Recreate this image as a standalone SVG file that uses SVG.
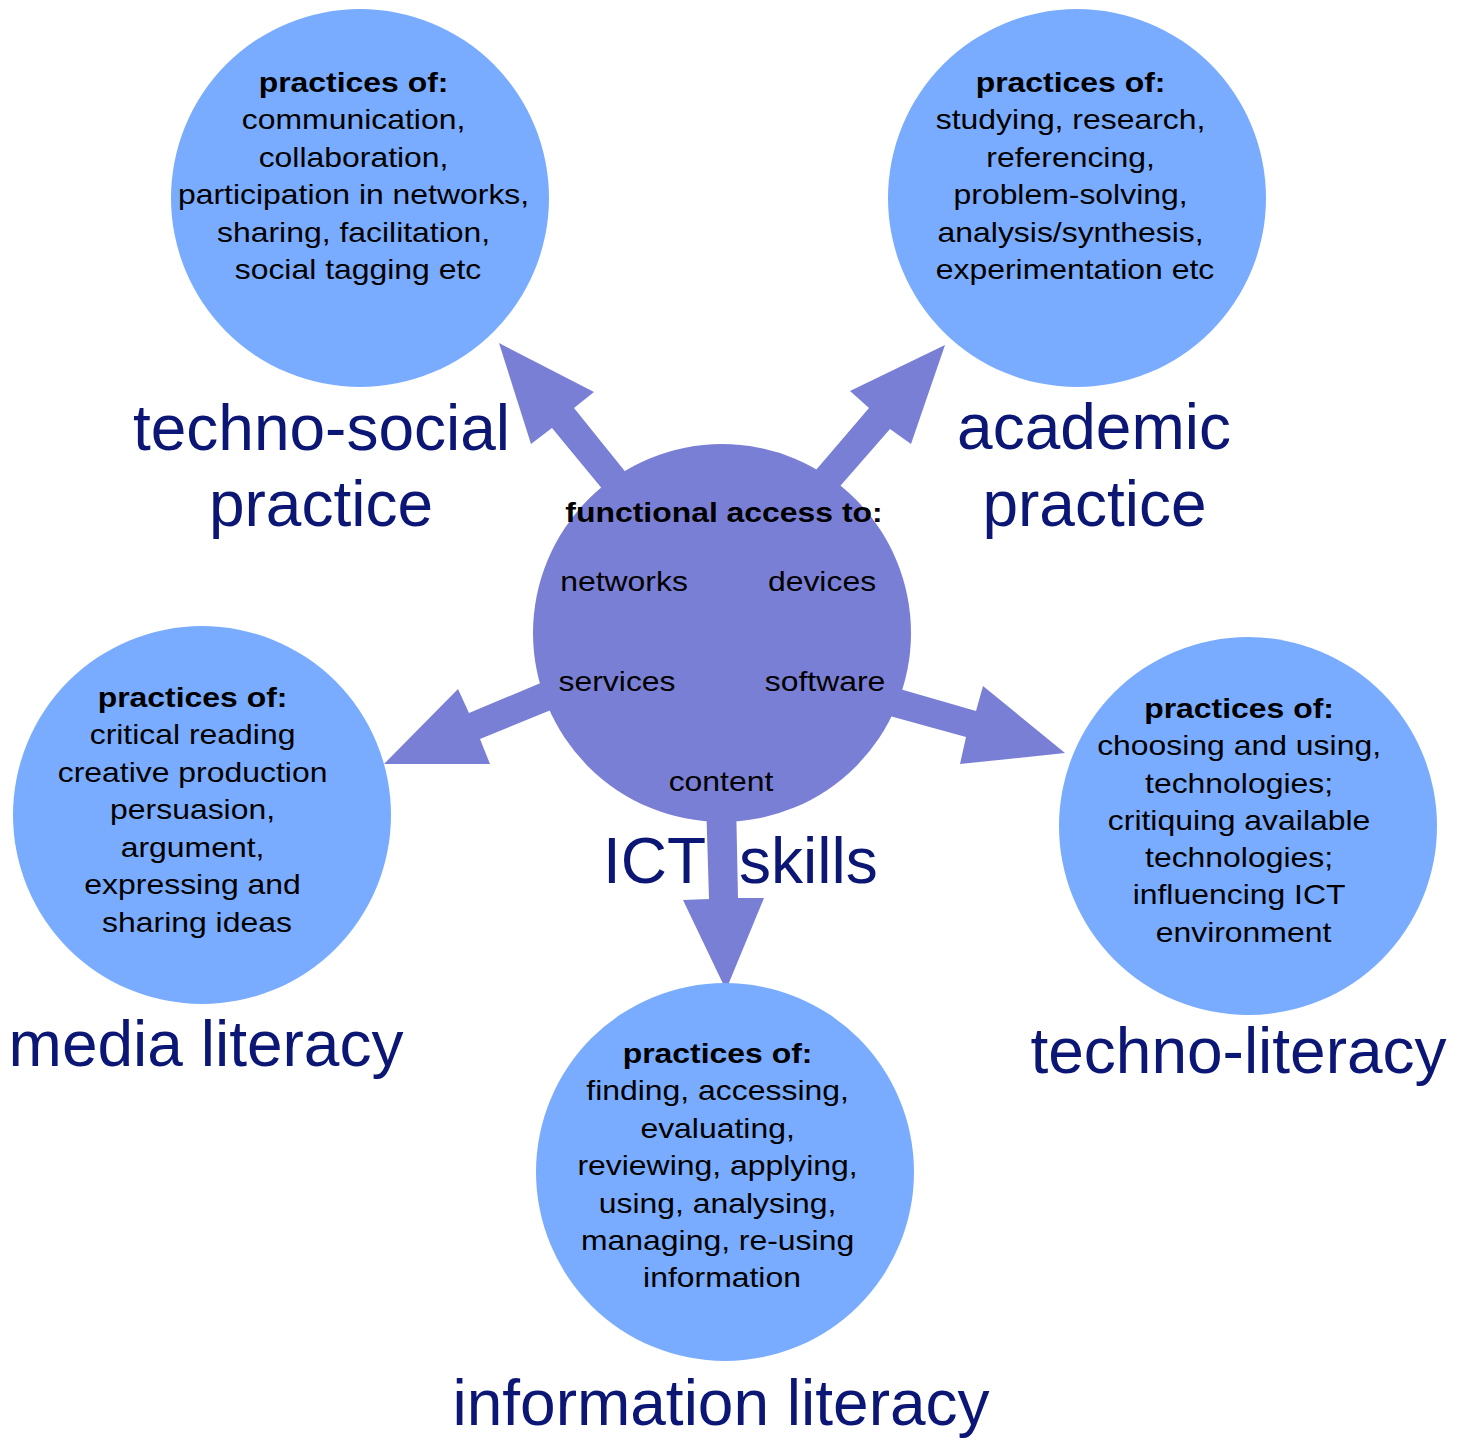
<svg xmlns="http://www.w3.org/2000/svg" width="1463" height="1440" viewBox="0 0 1463 1440">
  <style>
    .practice { fill: #79acff; }
    .core { fill: #7a7fd6; }
    .arrow { fill: #7a7fd6; }
    .body { font-family: "Liberation Sans", Arial, Helvetica, sans-serif; font-size: 28.5px; fill: #000; text-anchor: middle; }
    .head { font-weight: bold; }
    .label { font-family: "Liberation Sans", Arial, Helvetica, sans-serif; font-size: 64px; fill: #0b1675; text-anchor: middle; }
  </style>

  <rect width="1463" height="1440" fill="#fff"/>

  <!-- block arrows radiating from the ICT skills hub -->
  <g id="connectors">
    <polygon class="arrow" points="640,490 574,408 594,392 499,343 531,444 552,428 618,508"/>
    <polygon class="arrow" points="945,345 850,391 869,408 804,484 828,500 890,429 911,444"/>
    <polygon class="arrow" points="384,764 458,689 469,713 562,674 573,701 480,739 490,764"/>
    <polygon class="arrow" points="1065,753 983,686 976,711 879,683 868,710 966,737 960,764"/>
    <polygon class="arrow" points="726,990 764,898 738,898 736,800 706,800 709,899 683,900"/>
  </g>

  <!-- techno-social practice -->
  <g id="techno-social">
    <circle class="practice" cx="360" cy="198" r="189"/>
    <g transform="translate(358 0) scale(1.12 1)">
      <text class="body" y="92">
        <tspan class="head" x="0">practices of:</tspan>
        <tspan x="0" dy="37.5">communication,</tspan>
        <tspan x="0" dy="37.5">collaboration,</tspan>
        <tspan x="0" dy="37.5">participation in networks,</tspan>
        <tspan x="0" dy="37.5">sharing, facilitation,</tspan>
        <tspan x="0" dy="37.5">social tagging etc</tspan>
      </text>
    </g>
    <text class="label" x="321.5" y="450">techno-social</text>
    <text class="label" x="321" y="526">practice</text>
  </g>

  <!-- academic practice -->
  <g id="academic">
    <circle class="practice" cx="1077" cy="198" r="189"/>
    <g transform="translate(1075 0) scale(1.12 1)">
      <text class="body" y="92">
        <tspan class="head" x="0">practices of:</tspan>
        <tspan x="0" dy="37.5">studying, research,</tspan>
        <tspan x="0" dy="37.5">referencing,</tspan>
        <tspan x="0" dy="37.5">problem-solving,</tspan>
        <tspan x="0" dy="37.5">analysis/synthesis,</tspan>
        <tspan x="0" dy="37.5">experimentation etc</tspan>
      </text>
    </g>
    <text class="label" x="1094" y="449">academic</text>
    <text class="label" x="1094.5" y="526">practice</text>
  </g>

  <!-- media literacy -->
  <g id="media-literacy">
    <circle class="practice" cx="202" cy="815" r="189"/>
    <g transform="translate(197 0) scale(1.12 1)">
      <text class="body" y="707">
        <tspan class="head" x="0">practices of:</tspan>
        <tspan x="0" dy="37.5">critical reading</tspan>
        <tspan x="0" dy="37.5">creative production</tspan>
        <tspan x="0" dy="37.5">persuasion,</tspan>
        <tspan x="0" dy="37.5">argument,</tspan>
        <tspan x="0" dy="37.5">expressing and</tspan>
        <tspan x="0" dy="37.5">sharing ideas</tspan>
      </text>
    </g>
    <text class="label" x="206" y="1066">media literacy</text>
  </g>

  <!-- techno-literacy -->
  <g id="techno-literacy">
    <circle class="practice" cx="1248" cy="826" r="189"/>
    <g transform="translate(1243.5 0) scale(1.12 1)">
      <text class="body" y="718">
        <tspan class="head" x="0">practices of:</tspan>
        <tspan x="0" dy="37.3">choosing and using,</tspan>
        <tspan x="0" dy="37.3">technologies;</tspan>
        <tspan x="0" dy="37.3">critiquing available</tspan>
        <tspan x="0" dy="37.3">technologies;</tspan>
        <tspan x="0" dy="37.3">influencing ICT</tspan>
        <tspan x="0" dy="37.3">environment</tspan>
      </text>
    </g>
    <text class="label" x="1238.5" y="1073">techno-literacy</text>
  </g>

  <!-- information literacy -->
  <g id="information-literacy">
    <circle class="practice" cx="725" cy="1172" r="189"/>
    <g transform="translate(722 0) scale(1.12 1)">
      <text class="body" y="1063">
        <tspan class="head" x="0">practices of:</tspan>
        <tspan x="0" dy="37.4">finding, accessing,</tspan>
        <tspan x="0" dy="37.4">evaluating,</tspan>
        <tspan x="0" dy="37.4">reviewing, applying,</tspan>
        <tspan x="0" dy="37.4">using, analysing,</tspan>
        <tspan x="0" dy="37.4">managing, re-using</tspan>
        <tspan x="0" dy="37.4">information</tspan>
      </text>
    </g>
    <text class="label" x="721" y="1425">information literacy</text>
  </g>

  <!-- ICT skills hub -->
  <g id="ict-skills">
    <circle class="core" cx="722" cy="633" r="189"/>
    <g transform="translate(724 0) scale(1.12 1)">
      <text class="body head" x="0" y="522">functional access to:</text>
      <text class="body" x="-89.3" y="591">networks</text>
      <text class="body" x="87.5" y="591">devices</text>
      <text class="body" x="-95.5" y="691">services</text>
      <text class="body" x="90.2" y="691">software</text>
      <text class="body" x="-2.7" y="791">content</text>
    </g>
    <text class="label" style="text-anchor: start" x="603" y="883">ICT<tspan x="739">skills</tspan></text>
  </g>
</svg>
